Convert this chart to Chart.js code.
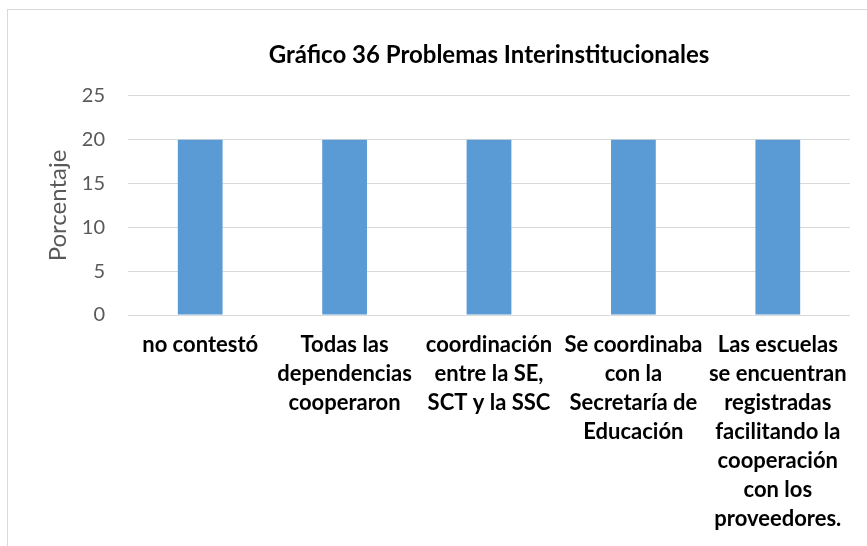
<!DOCTYPE html>
<html lang="es">
<head>
<meta charset="UTF-8">
<title>Gráfico 36</title>
<style>
  body { margin: 0; background: #fff; }
  #box {
    position: absolute; left: 7px; top: 9px;
    width: 859px; height: 536px;
    border-left: 1px solid #d9d9d9; border-top: 1px solid #d9d9d9;
  }
</style>
</head>
<body>
<div id="box"><canvas id="chart"></canvas></div>

<script src="https://cdn.jsdelivr.net/npm/chart.js@4.4.7/dist/chart.umd.min.js"></script>
<script>
// datos del gráfico
const categorias = [
  ['no contestó'],
  ['Todas las', 'dependencias', 'cooperaron'],
  ['coordinación', 'entre la SE,', 'SCT y la SSC'],
  ['Se coordinaba', 'con la', 'Secretaría de', 'Educación'],
  ['Las escuelas', 'se encuentran', 'registradas', 'facilitando la', 'cooperación', 'con los', 'proveedores.']
];
const porcentajes = [20, 20, 20, 20, 20];
const titulo = 'Gráfico 36 Problemas Interinstitucionales';
const tituloEjeY = 'Porcentaje';

const fuente = 'Lato, "Open Sans", sans-serif';

new Chart(document.getElementById('chart'), {
  type: 'bar',
  data: {
    labels: categorias,
    datasets: [{
      data: porcentajes,
      backgroundColor: '#5b9bd5',
      barPercentage: 0.31,
      categoryPercentage: 1
    }]
  },
  options: {
    responsive: true,
    maintainAspectRatio: false,
    animation: false,
    layout: { padding: { left: 0, right: 17, top: 0, bottom: 0 } },
    plugins: {
      legend: { display: false },
      tooltip: { enabled: false },
      title: {
        display: true,
        text: titulo,
        fullSize: false,
        color: '#000',
        font: { family: fuente, size: 24, weight: 'bold' },
        padding: { top: 31, bottom: 26 }
      }
    },
    scales: {
      x: {
        grid: { display: false },
        border: { display: false },
        ticks: {
          color: '#000',
          font: { family: fuente, size: 22, weight: 'bold', lineHeight: 1.32 },
          maxRotation: 0,
          autoSkip: false,
          padding: 7
        },
        afterFit: s => { s.height = 231; }
      },
      y: {
        min: 0,
        max: 25,
        ticks: {
          stepSize: 5,
          color: '#595959',
          font: { family: fuente, size: 20 },
          padding: 23
        },
        grid: { color: '#d9d9d9', drawTicks: false },
        border: { display: false },
        title: {
          display: true,
          text: tituloEjeY,
          color: '#595959',
          font: { family: fuente, size: 24 },
          padding: { top: 36, bottom: 0 }
        },
        afterFit: s => { s.width = 120; }
      }
    }
  }
});
</script>
</body>
</html>
